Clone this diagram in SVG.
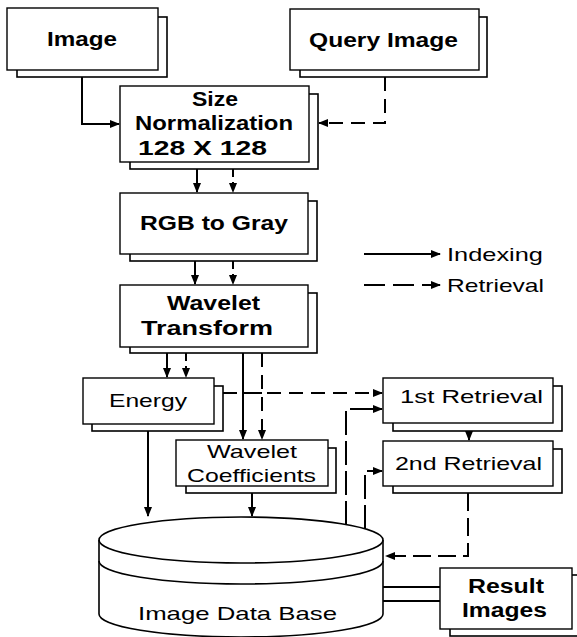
<svg xmlns="http://www.w3.org/2000/svg" width="577" height="637" viewBox="0 0 577 637">
<style>
.sh{fill:#fff;stroke:#000;stroke-width:1.6}
.fr{fill:#fff;stroke:#000;stroke-width:1.4}
.b{font-family:"Liberation Sans",Arial,sans-serif;font-weight:bold;font-size:20px;fill:#000}
.r{font-family:"Liberation Sans",Arial,sans-serif;font-size:19px;fill:#000}
.s{fill:none;stroke:#000;stroke-width:2}
.d{fill:none;stroke:#000;stroke-width:2;stroke-dasharray:14 8}
</style>
<defs>
<marker id="ah" markerWidth="10" markerHeight="8" refX="9" refY="4" orient="auto" markerUnits="userSpaceOnUse">
<path d="M0,0 L10,4 L0,8 Z" fill="#000"/>
</marker>
</defs>
<rect width="577" height="637" fill="#fff"/>

<g id="connectors">
<path class="s" d="M82,77 V124 H119" marker-end="url(#ah)"/>
<path class="d" d="M385,77 V123 H319" marker-end="url(#ah)"/>
<path class="s" d="M197,169 V192" marker-end="url(#ah)"/>
<path class="d" style="stroke-dasharray:8 5" d="M233,169 V192" marker-end="url(#ah)"/>
<path class="s" d="M195,261 V284" marker-end="url(#ah)"/>
<path class="d" style="stroke-dasharray:8 5" d="M233,261 V284" marker-end="url(#ah)"/>
<path class="s" d="M167,353 V377" marker-end="url(#ah)"/>
<path class="d" style="stroke-dasharray:8 5" d="M186,353 V377" marker-end="url(#ah)"/>
<path class="s" d="M243,353 V439" marker-end="url(#ah)"/>
<path class="d" d="M262,353 V439" marker-end="url(#ah)"/>
<path class="s" d="M243,393 H262"/>
<path class="d" d="M223,393 H382" marker-end="url(#ah)"/>
<path class="d" style="stroke-dasharray:24 6" d="M346,525 V409 H382" marker-end="url(#ah)"/>
<path class="d" style="stroke-dasharray:24 6" d="M365,529 V471 H382" marker-end="url(#ah)"/>
<path class="s" d="M469,423 V440" marker-end="url(#ah)"/>
<path class="d" style="stroke-dasharray:18 7" d="M468,493 V556 H386" marker-end="url(#ah)"/>
<path class="s" d="M148,431 V516" marker-end="url(#ah)"/>
<path class="s" d="M252,493 V516" marker-end="url(#ah)"/>
<path class="s" d="M383,587 H440 M383,601 H440"/>
</g>

<g id="legend">
<path class="s" d="M364,254 H440" marker-end="url(#ah)"/>
<path class="d" style="stroke-dasharray:21 8" d="M364,285 H440" marker-end="url(#ah)"/>
<text class="r" x="447" y="261" textLength="96" lengthAdjust="spacingAndGlyphs">Indexing</text>
<text class="r" x="447" y="292" textLength="97" lengthAdjust="spacingAndGlyphs">Retrieval</text>
</g>

<g id="image">
<rect class="sh" x="17" y="17" width="150" height="60"/>
<rect class="fr" x="7" y="8" width="151" height="62"/>
<text class="b" x="47" y="46" textLength="70" lengthAdjust="spacingAndGlyphs">Image</text>
</g>

<g id="query-image">
<rect class="sh" x="300" y="17" width="187" height="60"/>
<rect class="fr" x="290" y="9" width="189" height="61"/>
<text class="b" x="309" y="47" textLength="149" lengthAdjust="spacingAndGlyphs">Query Image</text>
</g>

<g id="size-normalization">
<rect class="sh" x="130" y="94" width="188" height="75"/>
<rect class="fr" x="120" y="86" width="189" height="76"/>
<text class="b" x="192" y="106" textLength="46" lengthAdjust="spacingAndGlyphs">Size</text>
<text class="b" x="135" y="130" textLength="158" lengthAdjust="spacingAndGlyphs">Normalization</text>
<text class="b" x="138" y="155" textLength="129" lengthAdjust="spacingAndGlyphs">128 X 128</text>
</g>

<g id="rgb-to-gray">
<rect class="sh" x="130" y="201" width="187" height="60"/>
<rect class="fr" x="120" y="193" width="188" height="61"/>
<text class="b" x="140" y="230" textLength="148" lengthAdjust="spacingAndGlyphs">RGB to Gray</text>
</g>

<g id="wavelet-transform">
<rect class="sh" x="130" y="293" width="187" height="60"/>
<rect class="fr" x="120" y="285" width="188" height="62"/>
<text class="b" x="167" y="310" textLength="93" lengthAdjust="spacingAndGlyphs">Wavelet</text>
<text class="b" x="141" y="335" textLength="132" lengthAdjust="spacingAndGlyphs">Transform</text>
</g>

<g id="energy">
<rect class="sh" x="92" y="386" width="131" height="45"/>
<rect class="fr" x="83" y="378" width="131" height="46"/>
<text class="r" x="109" y="407" textLength="78" lengthAdjust="spacingAndGlyphs">Energy</text>
</g>

<g id="wavelet-coefficients">
<rect class="sh" x="186" y="448" width="150" height="45"/>
<rect class="fr" x="176" y="440" width="152" height="46"/>
<text class="r" x="207" y="458" textLength="90" lengthAdjust="spacingAndGlyphs">Wavelet</text>
<text class="r" x="187" y="482" textLength="129" lengthAdjust="spacingAndGlyphs">Coefficients</text>
</g>

<g id="first-retrieval">
<rect class="sh" x="393" y="386" width="169" height="45"/>
<rect class="fr" x="383" y="378" width="170" height="45"/>
<text class="r" x="400" y="403" textLength="143" lengthAdjust="spacingAndGlyphs">1st Retrieval</text>
</g>

<g id="second-retrieval">
<rect class="sh" x="393" y="449" width="169" height="44"/>
<rect class="fr" x="383" y="441" width="170" height="45"/>
<text class="r" x="395" y="470" textLength="147" lengthAdjust="spacingAndGlyphs">2nd Retrieval</text>
</g>

<g id="image-data-base">
<path fill="#fff" stroke="#000" stroke-width="1.6" d="M99,540 A142,23 0 0 1 383,540 V614 A142,23 0 0 1 99,614 Z"/>
<path fill="none" stroke="#000" stroke-width="1.6" d="M99,540 A142,23 0 0 0 383,540 M99,561 A142,23 0 0 0 383,561"/>
<text class="r" x="138" y="620" font-size="20" textLength="199" lengthAdjust="spacingAndGlyphs">Image Data Base</text>
</g>

<g id="result-images">
<rect class="sh" x="450" y="575" width="135" height="61"/>
<rect class="fr" x="440" y="568" width="132" height="61"/>
<text class="b" x="468" y="593" textLength="76" lengthAdjust="spacingAndGlyphs">Result</text>
<text class="b" x="462" y="617" textLength="85" lengthAdjust="spacingAndGlyphs">Images</text>
</g>
</svg>
